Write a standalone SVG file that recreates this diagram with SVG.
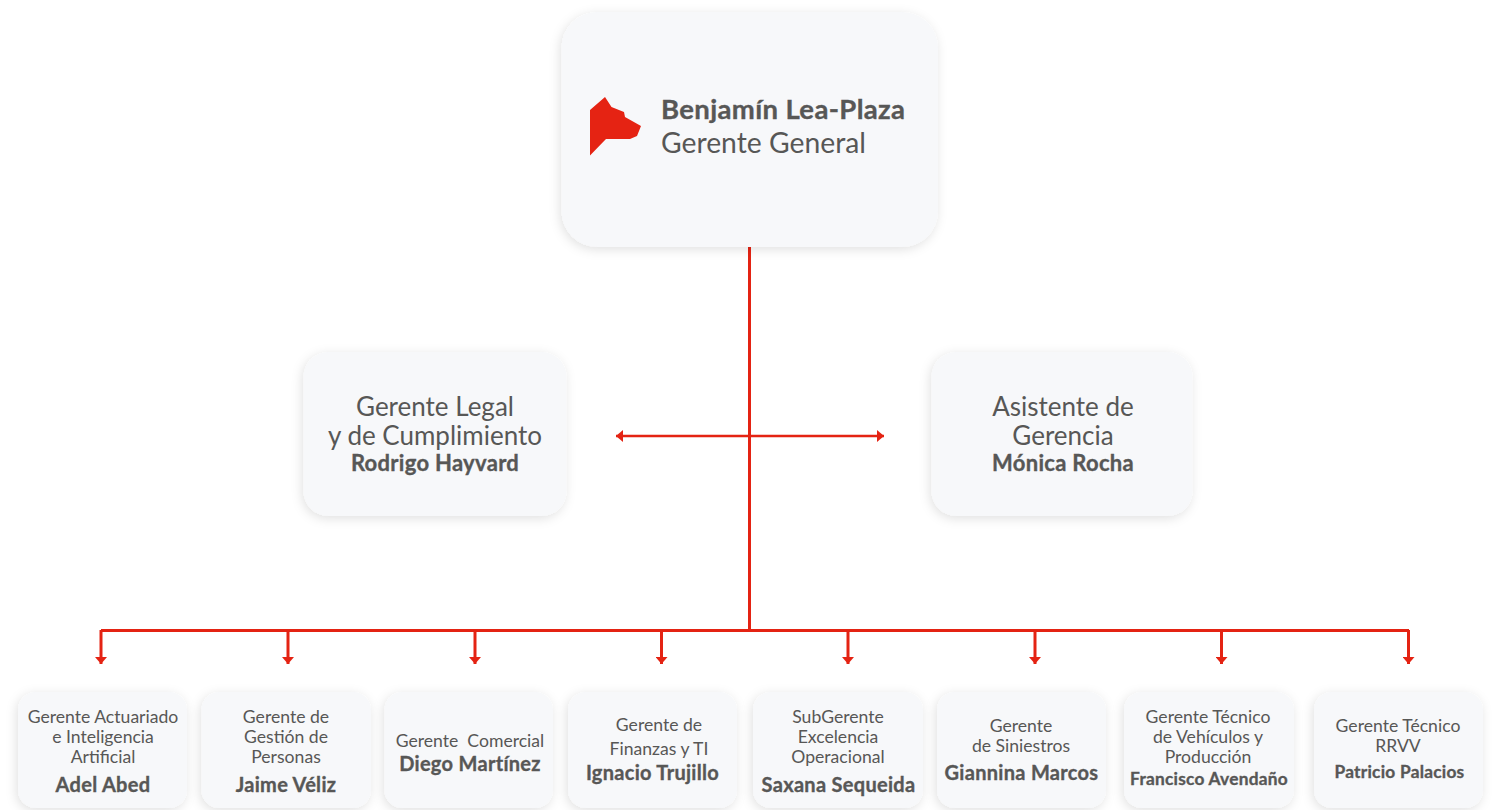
<svg xmlns="http://www.w3.org/2000/svg" width="1493" height="810" viewBox="0 0 1493 810">
<style>
text{font-family:"Lato","Noto Sans",sans-serif;fill:#575756;text-anchor:middle}
.b,.sb,.mb{font-weight:700;stroke:#575756;stroke-width:.35px}
.card{fill:#f7f8fa;filter:url(#sh)}
.ln{stroke:#e42313;fill:none}
.s{font-size:17.6px}
.sb{font-size:20px;letter-spacing:.3px}
.m{font-size:26px}
.mb{font-size:22px;letter-spacing:.3px}
.t{font-size:17.300px;letter-spacing:.25px}
</style>
<defs>
<filter id="sh" x="-20%" y="-20%" width="140%" height="140%"><feDropShadow dx="-1.500" dy="2.500" stdDeviation="5.500" flood-color="#000" flood-opacity=".12"/></filter>
<marker id="ah" markerUnits="userSpaceOnUse" markerWidth="12" markerHeight="12" refX="7" refY="6" orient="auto-start-reverse"><path d="M0 0L7 6L0 12Z" fill="#e42313"/></marker>
</defs>
<g id="connectors">
<path class="ln" stroke-width="3" d="M749.500 247V630.500M101 630.500H1409"/>
<path class="ln" stroke-width="2.500" d="M616 436H884" marker-start="url(#ah)" marker-end="url(#ah)"/>
<g class="ln" stroke-width="3" marker-end="url(#ah)">
<path d="M101 630V664"/><path d="M288 630V664"/><path d="M475 630V664"/><path d="M661.500 630V664"/><path d="M848 630V664"/><path d="M1035 630V664"/><path d="M1221.500 630V664"/><path d="M1408.500 630V664"/>
</g>
</g>
<g id="n-gg"><rect class="card" x="561.500" y="12" width="376.500" height="235" rx="36"/>
<path d="M590 110L605 97L611.500 107L624 112L625 117L641 126L637 136L630 139H606L590 155.500Z" fill="#e52313"/>
<text x="661" y="118.500" style="text-anchor:start;font-size:27.500px;letter-spacing:.35px" class="b">Benjamín Lea-Plaza</text>
<text x="661" y="153" style="text-anchor:start;font-size:28.300px">Gerente General</text></g>
<g id="n-legal"><rect class="card" x="303.500" y="352" width="263" height="164" rx="25"/>
<text class="m" x="435" y="416">Gerente Legal</text><text class="m" x="435" y="445">y de Cumplimiento</text><text class="mb" x="435" y="471">Rodrigo Hayvard</text></g>
<g id="n-asist"><rect class="card" x="931.500" y="352" width="261" height="164" rx="25"/>
<text class="m" x="1063" y="416">Asistente de</text><text class="m" x="1063" y="445">Gerencia</text><text class="mb" x="1063" y="471">Mónica Rocha</text></g>
<g id="n1"><rect class="card" x="18" y="692" width="169" height="116" rx="18"/>
<text class="s" x="103" y="723">Gerente Actuariado</text><text class="s" x="103" y="743">e Inteligencia</text><text class="s" x="103" y="763">Artificial</text><text class="sb" x="103" y="792">Adel Abed</text></g>
<g id="n2"><rect class="card" x="201.500" y="692" width="169.500" height="116" rx="18"/>
<text class="s" x="286" y="723">Gerente de</text><text class="s" x="286" y="743">Gestión de</text><text class="s" x="286" y="763">Personas</text><text class="sb" x="286" y="792">Jaime Véliz</text></g>
<g id="n3"><rect class="card" x="384.500" y="692" width="168.500" height="116" rx="18"/>
<text class="s" x="470" y="747" xml:space="preserve">Gerente  Comercial</text><text class="sb" x="470" y="771">Diego Martínez</text></g>
<g id="n4"><rect class="card" x="568" y="692" width="169" height="116" rx="18"/>
<text class="s" x="659" y="731">Gerente de</text><text class="s" x="659" y="755">Finanzas y TI</text><text class="sb" x="652.500" y="780">Ignacio Trujillo</text></g>
<g id="n5"><rect class="card" x="753" y="692" width="170" height="116" rx="18"/>
<text class="s" x="838" y="723">SubGerente</text><text class="s" x="838" y="743">Excelencia</text><text class="s" x="838" y="763">Operacional</text><text class="sb" x="838.500" y="792">Saxana Sequeida</text></g>
<g id="n6"><rect class="card" x="937" y="692" width="169" height="116" rx="18"/>
<text class="s" x="1021" y="732">Gerente</text><text class="s" x="1021" y="752">de Siniestros</text><text class="sb" x="1021.500" y="780">Giannina Marcos</text></g>
<g id="n7"><rect class="card" x="1124" y="692" width="170" height="116" rx="18"/>
<text class="s" x="1208" y="723">Gerente Técnico</text><text class="s" x="1208" y="743">de Vehículos y</text><text class="s" x="1208" y="763">Producción</text><text class="b t" x="1209" y="785">Francisco Avendaño</text></g>
<g id="n8"><rect class="card" x="1314" y="692" width="169" height="116" rx="18"/>
<text class="s" x="1398" y="732">Gerente Técnico</text><text class="s" x="1398" y="752">RRVV</text><text class="b t" x="1399.500" y="778">Patricio Palacios</text></g>
</svg>
